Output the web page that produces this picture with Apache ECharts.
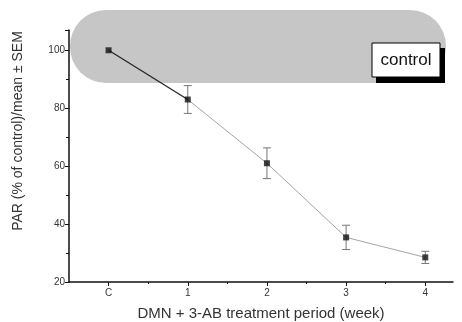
<!DOCTYPE html>
<html>
<head>
<meta charset="utf-8">
<script src="https://cdn.jsdelivr.net/npm/echarts@6/dist/echarts.min.js"></script>
<style>
  html, body { margin: 0; padding: 0; background: #fff; }
  #chart { width: 462px; height: 322px; }
</style>
</head>
<body>
<div id="chart"></div>
<script>
// Treatment period labels (C = control) and their x positions
const periods = ['C', '1', '2', '3', '4'];
const periodPos = [0, 1, 2, 3, 4];
// PAR as % of control (mean) and SEM
const parMean = [100, 83, 61, 35.4, 28.5];
const parSem = [0, 4.8, 5.3, 4.2, 2.1];
// Y axis tick labels
const yTicks = [20, 40, 60, 80, 100];

const points = periodPos.map((x, i) => [x, parMean[i]]);
const errBars = periodPos.map((x, i) => [x, parMean[i] - parSem[i], parMean[i] + parSem[i]]);

const chart = echarts.init(document.getElementById('chart'), null, { renderer: 'canvas' });
const font = '"Liberation Sans", Arial, sans-serif';

chart.setOption({
  animation: false,
  backgroundColor: '#fff',
  grid: { left: 69, right: 9, top: 30, bottom: 40, outerBoundsMode: 'none' },
  graphic: [
    // shaded control band
    { type: 'rect', z: -10, shape: { x: 70, y: 10, width: 376, height: 73, r: 36 },
      style: { fill: '#c6c6c6' } },
    // "control" label box with drop shadow
    { type: 'rect', z: 50, shape: { x: 376, y: 48, width: 69, height: 35 }, style: { fill: '#000' } },
    { type: 'rect', z: 51, shape: { x: 372, y: 43, width: 68, height: 34 },
      style: { fill: '#fff', stroke: '#000', lineWidth: 1 } },
    { type: 'text', z: 52, x: 406, y: 60,
      style: { text: 'control', font: '17px ' + font, fill: '#111', align: 'center', verticalAlign: 'middle' } },
    // y axis title
    { type: 'text', z: 10, x: 18, y: 131, rotation: Math.PI / 2,
      style: { text: 'PAR (% of control)/mean ± SEM', font: '14px ' + font, fill: '#333',
               align: 'center', verticalAlign: 'middle' } }
  ],
  xAxis: [
    {
      type: 'value', min: -0.5, max: 4.35,
      name: 'DMN + 3-AB treatment period (week)', nameLocation: 'middle', nameGap: 24,
      nameTextStyle: { fontFamily: font, fontSize: 15, color: '#333' },
      axisLine: { show: true, onZero: false, lineStyle: { color: '#111', width: 1.5 } },
      axisTick: { show: true, inside: false, length: 4, customValues: periodPos,
                  lineStyle: { color: '#111', width: 1 } },
      axisLabel: { customValues: periodPos, margin: 6, fontFamily: font, fontSize: 10, color: '#333',
                   formatter: v => periods[periodPos.indexOf(Math.round(v))] ?? '' },
      splitLine: { show: false }
    },
    {
      type: 'value', min: -0.5, max: 4.35, position: 'bottom',
      axisLine: { show: false, onZero: false },
      axisTick: { show: true, length: 2, customValues: [0.5, 1.5, 2.5, 3.5],
                  lineStyle: { color: '#111', width: 1 } },
      axisLabel: { show: false },
      splitLine: { show: false }
    }
  ],
  yAxis: {
    type: 'value', min: 20, max: 107, interval: 20,
    axisLine: { show: true, onZero: false, lineStyle: { color: '#111', width: 1.5 } },
    axisTick: { show: true, length: 4, lineStyle: { color: '#111', width: 1 } },
    minorTick: { show: true, splitNumber: 2, length: 3, lineStyle: { color: '#111', width: 1 } },
    axisLabel: { margin: 4, fontFamily: font, fontSize: 10, color: '#333', showMaxLabel: false,
                 formatter: v => yTicks.includes(v) ? String(v) : '' },
    splitLine: { show: false }
  },
  series: [
    {
      type: 'custom', z: 3,
      renderItem: (params, api) => {
        const x = api.value(0);
        const lo = api.coord([x, api.value(1)]);
        const hi = api.coord([x, api.value(2)]);
        if (Math.abs(hi[1] - lo[1]) < 1) return null;
        const w = 4;
        const st = { stroke: '#777', lineWidth: 1 };
        return {
          type: 'group', children: [
            { type: 'line', shape: { x1: lo[0], y1: lo[1], x2: hi[0], y2: hi[1] }, style: st },
            { type: 'line', shape: { x1: lo[0] - w, y1: lo[1], x2: lo[0] + w, y2: lo[1] }, style: st },
            { type: 'line', shape: { x1: hi[0] - w, y1: hi[1], x2: hi[0] + w, y2: hi[1] }, style: st }
          ]
        };
      },
      encode: { x: 0, y: [1, 2] },
      data: errBars
    },
    {
      type: 'line', z: 4, data: points.slice(1),
      symbol: 'none', lineStyle: { color: '#a5a5a5', width: 1 }
    },
    {
      type: 'line', z: 5, data: points.slice(0, 2),
      symbol: 'none', lineStyle: { color: '#222', width: 1.2 }
    },
    {
      type: 'scatter', z: 6, data: points,
      symbol: 'rect', symbolSize: 6, itemStyle: { color: '#111' }
    }
  ]
});
</script>
</body>
</html>
